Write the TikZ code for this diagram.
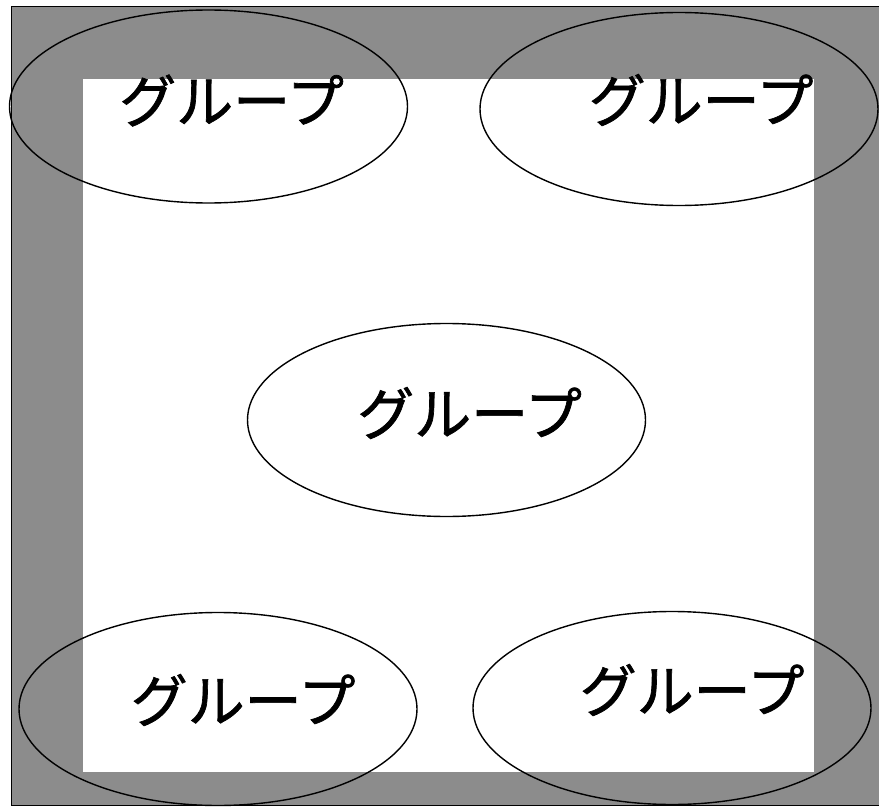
\documentclass[tikz,border=0pt]{standalone}
\usepackage{fontspec}
\newfontfamily\jpfont[FakeBold=1.2]{Noto Sans CJK JP}
\usetikzlibrary{shapes.geometric}
\definecolor{framegray}{HTML}{8C8C8C}
\tikzset{
  group/.style={draw, ellipse, line width=1.4pt, inner sep=0pt,
    minimum width=398pt, minimum height=193pt},
  grouplabel/.style={font=\jpfont\fontsize{57}{64}\selectfont, inner sep=0pt}
}
\begin{document}
\begin{tikzpicture}[x=1pt, y=-1pt]
  \useasboundingbox (0,0) rectangle (879,808);
  % frame and field
  \fill[framegray] (11,6) rectangle (882,805);
  \draw[line width=0.9pt] (882,6) -- (11,6) -- (11,805) -- (882,805);
  \fill[white] (83,79) rectangle (814,772);

  % groups
  \node[group] (gtl) at (208.5,106.5) {};
  \node[group] (gtr) at (679,109) {};
  \node[group] (gc) at (446.5,420) {};
  \node[group] (gbl) at (218,709) {};
  \node[group] (gbr) at (672,708) {};

  \foreach \g/\dx/\dy in {gtl/23/6, gtr/22/9, gc/23/7, gbl/25/9, gbr/20/18}
    \node[grouplabel] (\g-text) at ([xshift=\dx pt, yshift=\dy pt]\g.center) {グループ};
\end{tikzpicture}
\end{document}
